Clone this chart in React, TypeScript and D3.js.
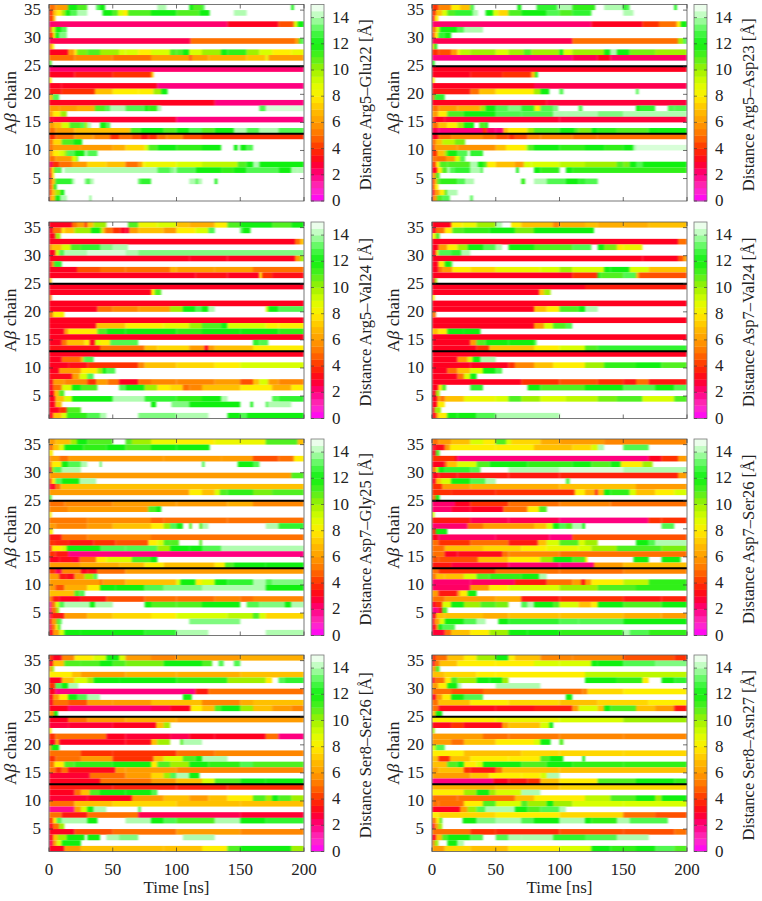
import React from 'react';
import * as d3 from 'd3';

// each row is [end time, distance, end time, distance, ...], chain 35 first, chain 1 last
const arg5Glu22: number[][] = [
  [5,5,15,6,22,12,30,11,37,15,40,13,44,12,85,15,92,14,110,15,113,12,120,11,122,13,190,15,192,12,200,15],
  [3,4,6,7,10,8,13,10,17,12,22,13,30,14,42,15,50,12,54,11,58,9,62,8,80,11,100,12,118,11,126,12,145,15,155,14,200,15],
  [3,4,5,7,200,15],
  [140,2.2,180,3,192,4.5,195,9,200,12],
  [2,4,5,9,10,12,14,13,200,15],
  [3,4,5,8,8,12,14,13.5,200,15],
  [111,2.5,193,5,196,6,198,11,200,13],
  [2,5,4,8,200,15],
  [15,3,20,6,22,8,30,10.5,40,11,55,10,60,9,70,9,80,8,95,9,100,11,105,11,110,12,120,9,135,10,140,12,155,11.5,165,10,175,9,190,8,200,8.5],
  [20,5,50,5.5,80,5,110,6,112,4.5,125,6,155,6.5,170,7,172,8.5,200,6],
  [2,11,200,15],
  [200,2.2],
  [20,3,50,3.5,80,4,82,7,200,15],
  [2,8,200,15],
  [10,3,85,3,200,2],
  [10,3.5,36,4,50,7,70,8,82,8,88,10,93,12,200,15],
  [3,7,8,13,200,15],
  [130,3,200,2],
  [8,6,22,6,36,6.5,44,11,48,13,60,14,75,13,78,12,85,11.5,88,14,165,15,170,13,200,14.5],
  [3,6,9,8,14,10,200,15],
  [3,3,100,2.8,200,2],
  [4,6,10,7,16,9,25,11,28,13,30,10,33,14,40,15,45,12,48,13,200,15],
  [5,5,20,6,40,7,64,7,72,11,90,12,100,11,110,12,120,13,130,11,145,12,155,14,165,13,180,14,200,13],
  [5,4,20,5,35,6,48,5.5,55,4,65,5,72,4.5,78,3.5,85,4,92,5,105,5.5,120,4.5,200,4],
  [3,5,10,7.5,19,11,26,12,200,15],
  [3,5,25,6,50,6,60,6.5,75,7.5,78,9,85,11,100,12,120,11.5,135,12,145,15,148,12,150,15,155,12,160,13,200,15],
  [3,6,8,8,12,9,14,10,20,13,28,12,30,14,38,13,200,15],
  [5,5,18,6,22,9,23,13,200,15],
  [3,2.5,8,4,18,5,30,6,45,7.5,60,7,70,5,73,6,75,8,100,8.5,120,9,148,9.5,155,11,160,12,165,14,200,12],
  [2,4,4,8,6,11,10,13,12,15,85,14,95,13,98,13.5,100,14,115,13,120,12,135,12,145,11.5,155,12,160,13,180,13,190,12,195,14,200,14],
  [2,3,4,8,200,15],
  [2,4,5,7,18,12.5,20,14,28,15,30,13.5,32,12.5,35,14,70,15,72,13,80,12.5,110,15,115,14,117,13,120,14,130,15,132,12,200,15],
  [2,4,4,7,6,12,200,15],
  [2,4,5,7,9,10,12,12,200,15],
  [1,3,5,7,9,12,14,14,32,15,33,13,200,15],
];

const arg5Asp23: number[][] = [
  [5,4,15,5.5,22,8,30,7,33,13,67,15,70,12,82,15,98,12.5,110,14,128,11.5,135,15,150,14,152,12,155,13,190,15,192,12,195,15,200,15],
  [3,4,8,7,12,9,18,11,32,12.5,36,14,42,15,48,12,52,9,60,7.5,70,11,90,12,100,13,110,11,125,12.5,150,15,158,14,200,15],
  [2,3,5,8,200,15],
  [125,2.2,165,3,178,4,192,5,195,8,200,12],
  [3,5,6,9,20,12,25,13,40,14,200,15],
  [2,4,5,8,10,12.5,15,12,200,15],
  [110,2.5,193,5,197,10,200,13],
  [2,7,4,12,200,15],
  [5,4,15,4.5,20,6,22,8,30,9.5,50,10,60,9,72,10,78,11,100,10,103,12,110,9,135,10,140,12,145,14,155,12,175,10.5,200,10],
  [110,2,130,2.5,140,3,200,2.3],
  [2,12,200,15],
  [200,3],
  [30,3,55,3.5,78,4,81,7,83,12,200,15],
  [2,8,200,15],
  [80,3,200,2.5],
  [30,3.5,37,5,50,7,80,8,85,10,92,12,100,15,103,13,160,15,162,13,200,15],
  [2,5,10,12.5,200,15],
  [90,3,200,2.7],
  [5,5,20,6,38,6.5,42,10,50,12,60,13,70,13.5,80,12.5,82,9,85,8,95,13,99,13.5,115,15,118,13,160,15,163,12,175,12.5,185,15,190,13,200,13],
  [5,6,12,8,25,11,50,12,70,13,95,13,105,14,130,14,150,13.5,200,14],
  [2,4,10,3,100,2.8,200,2.7],
  [5,5,12,7,20,8,25,10,33,12,37,15,42,11,44,12,200,15],
  [5,2.5,40,2,43,4,50,2.2,56,2,60,7,75,8,80,10,100,11,112,12,115,11,125,10.5,130,12,145,11.5,170,11,178,12,200,12],
  [5,3,15,5,40,5.5,50,5,60,4.5,65,4,75,4.5,85,5.5,110,5.5,130,5,200,5],
  [3,5,8,7,18,9.5,26,10.5,200,15],
  [2,4,20,6,50,5.8,58,7,73,8,75,9,80,11,100,12,120,11.5,135,12,150,11.5,158,12,160,14,200,14.5],
  [4,4,10,7,12,10,20,12,28,13,30,15,32,12,40,12.5,200,15],
  [3,5,11,5,18,6,22,9,26,13,200,15],
  [3,4,6,8,12,11,30,11,36,14,40,12,43,11,50,8,65,7,72,6,78,9,100,9,120,9.5,145,10,150,11,155,10.5,160,12,165,13,200,12],
  [4,3,8,8,12,11,14,14,18,13,30,12.5,38,14,40,13,66,15,68,12,80,15,85,12,100,11.5,105,15,110,12,200,11.5],
  [3,6,6,11,200,15],
  [2,4,4,7,6,11,20,11.5,26,13,33,14,70,15,73,11.5,80,15,90,14,105,13,115,12,120,12.5,130,13,200,15],
  [2,4,5,8,200,15],
  [2,3,6,6,10,8,12,11,20,14,200,15],
  [1,3,4,6,8,11,14,13,30,15,32,13,200,15],
];

const arg5Val24: number[][] = [
  [18,3,22,5,28,6,30,4,35,7,45,10,52,15,62,15,70,11,85,8.5,100,9,110,7,120,6.5,130,6.5,140,8,150,11,175,12,190,11,200,12],
  [3,3,10,5,12,8,20,7,33,10,40,12,42,10,44,7,50,5,56,4,60,3,63,2.8,70,6,90,7,100,6,115,8,125,9,130,13,150,15,152,13,158,12,200,15],
  [5,3,9,10,200,15],
  [193,3,197,5,200,7],
  [2,5,10,7,17,9,25,11,40,12.5,50,13.5,62,14,200,15],
  [5,3,8,9,12,13,30,14,60,14.5,70,14,200,13.5],
  [110,3,140,3,193,3,197,6,200,10],
  [2,3,4,6,10,12.5,200,15],
  [22,3,40,4.5,60,5,95,5,100,6.5,130,6,160,6,200,5],
  [115,3,140,3.3,165,3,167,8,175,4,200,3.3],
  [2,7,200,15],
  [200,3],
  [80,3,83,8,88,11,200,15],
  [2,5,200,15],
  [200,3],
  [38,3,50,5,70,5.5,95,6,105,10,115,12,120,13,125,12,130,14,170,15,172,9,180,12,200,13],
  [3,5,12,8,200,15],
  [200,3],
  [37,3,60,7,90,8,110,8.5,120,10,135,11,140,12,170,9,180,8,200,8],
  [12,3,15,6,38,8,45,11,60,12,100,12,120,11.5,150,12,180,12,200,11.5],
  [200,3],
  [10,3,14,5,28,7,32,8,36,3,40,9,48,8,70,13,85,15,160,15,165,12.5,172,13,200,15],
  [40,3.3,75,5,85,7,110,7.5,122,6,125,3,130,6,160,7,200,8],
  [200,3],
  [10,3,25,5,27,7,28,11,35,13,200,15],
  [15,3,30,3.3,70,4,75,5.5,100,7,130,7.5,150,8,200,9],
  [8,3,25,6,38,8,42,10,45,12,52,13,200,15],
  [18,3.2,24,6,30,9,35,13,200,15],
  [3,3,12,6,30,5.5,37,4,46,6,55,5,70,3,80,5,100,5.5,130,5.5,150,6,160,4.5,165,7,172,9,180,6,200,5.5],
  [3,3,10,5,18,9,25,12,38,11,42,15,55,15,60,13,75,12,85,10,95,8,105,7.5,110,5,120,5.5,150,7,175,8,190,6.5,200,8],
  [4,3,8,7,12,11,200,15],
  [5,3,12,7,18,9,50,12,75,14,100,12.5,120,11.5,135,12,140,14,160,15,175,15,180,13,200,12.5],
  [5,3,10,7,80,15,84,12,96,15,110,13.5,120,12,150,12,158,15,160,12,170,15,172,13,190,14,200,15],
  [8,3,14,4,25,11,200,15],
  [3,3,10,7,14,9,30,11.5,40,13,45,14,70,15,100,13.5,125,14,140,15,150,12,155,13,200,12],
];

const asp7Val24: number[][] = [
  [15,3,24,8,35,8.5,50,10,55,14,62,15,70,8,95,7,100,5.5,120,6.5,130,7,150,6.5,170,6.5,200,7],
  [3,3,10,5,16,8,25,11,45,11.5,65,12,80,10.5,120,12,127,12,200,15],
  [3,8,6,11,200,15],
  [193,3,200,5],
  [5,3,12,6,20,8,28,10,40,12,50,13,55,14,60,15,80,12,110,11,125,13,130,15,135,12,145,10.5,150,8,165,8.5,166,15,200,15],
  [3,3,5,8,15,13,23,12.5,30,14,200,15],
  [165,3,193,3,197,4.5,200,6],
  [5,3,10,8,15,12,16,13,200,15],
  [5,3,8,5,16,6,30,8,50,7.5,85,8.5,100,9,110,10,135,9,140,12,155,12,170,9,200,7],
  [110,3,130,4,132,12,150,11,160,13,162,7,200,4.5],
  [2,3,4,10,200,15],
  [120,3,200,3.6],
  [84,3,88,7,93,10,200,15],
  [2,8,200,15],
  [200,3],
  [80,3,90,7,100,8,115,11,120,12,130,14,200,15],
  [3,5,200,15],
  [200,3],
  [80,3,88,6,95,9,105,11,110,13,130,15,200,15],
  [5,7,12,8,25,12,38,12,200,15],
  [200,3],
  [30,3,35,6,42,11,60,12,80,12,82,13,85,15,200,15],
  [35,3,45,4,80,7,100,8,120,9,130,11,200,12.5],
  [200,3],
  [20,3,28,6,32,9,38,12,50,14,200,15],
  [30,3,60,3,65,4,80,5.5,95,7,120,8,135,10,160,11.5,180,12,200,11],
  [12,3,20,5,30,7,40,9,50,12,55,13,200,15],
  [20,3,25,5,30,9,35,12,200,15],
  [70,3,100,4,130,4.5,150,4,160,3.5,170,5,200,3.5],
  [5,3,8,8,11,11,30,15,40,12.5,75,15,85,12,120,11,150,12,175,13,190,12,200,13],
  [3,3,6,10,200,15],
  [4,3,7,6,10,5,25,7,50,8.5,60,9,70,11,85,10,105,9,130,9.5,145,10.5,165,11,190,9,200,11],
  [4,3,10,8,200,15],
  [2,3,7,10,200,15],
  [3,3,5,6,12,8,20,12,35,12,50,13,100,14,130,15,200,15],
];

const asp7Gly25: number[][] = [
  [5,6,17,7,22,10,30,12,50,11,52,15,60,15,65,11,80,10,100,8.5,130,8,170,8.5,195,11,200,7],
  [3,5,8,7,12,9,27,12,45,11.5,60,12,80,11,100,12,126,12,200,15],
  [3,8,200,15],
  [1,5,8,6,15,5,90,6,135,6,160,6,180,4.5,192,5,200,8],
  [2,5,10,8,15,12,25,13,30,14,40,15,41,12,120,15,122,13,148,15,160,12,165,13,200,15],
  [2,3,4,10,10,13,25,14,200,15],
  [190,6,200,11],
  [2,4,5,8,10,13,24,12,37,14,200,15],
  [2,2.8,5,3,9,5,200,7],
  [110,6,120,8,130,7,134,9,140,11,160,11.5,175,10.5,200,11],
  [2,11,200,15],
  [12,5,50,5.5,100,6,140,6,160,6.5,200,5.5],
  [15,5.5,78,6,84,11,88,12,200,15],
  [2,8,200,15],
  [30,5.2,80,5.6,90,4.8,140,5,200,5],
  [5,6,30,5.5,50,6,80,7,90,8,95,10,100,13,105,12,110,15,112,11,118,15,120,11,125,14,170,15,180,14,200,12.5],
  [3,8,200,15],
  [10,3.5,30,5,80,5.5,120,5,200,5],
  [4,4,15,3.7,35,3.5,52,4,78,4.5,85,8,90,9,95,11,102,11,110,15,118,15,120,11,200,15],
  [2,3,10,8,14,9,40,12,60,13,85,13,95,10,110,12,120,12,135,13,200,14],
  [5,4,15,3.5,200,2],
  [8,3,18,3.2,24,2.8,37,5,45,8,65,9,80,11,85,12,95,15,200,15],
  [25,6,55,6.5,75,7,90,8,130,7,138,8,145,11,170,12,200,12],
  [5,4,10,2.5,25,5.5,30,3,38,3.3,60,5,200,6],
  [8,6,14,3.5,20,3.2,28,6,35,10,38,13,200,15],
  [40,6,42,5,60,6,100,7,103,9,115,12,120,8,130,9,140,12,160,12.5,170,14,175,13,200,13.5],
  [5,6,12,4.5,30,6.5,40,8,52,12,75,12,90,13,120,13.5,170,14,200,12],
  [20,7,24,11,28,13,200,15],
  [3,5,8,3.5,25,3,45,3.5,75,4.5,100,5,130,5,150,5.5,160,5,200,5.5],
  [2,1.8,5,5,8,9,12,13,32,14,36,12,50,14,75,15,80,12,100,11,120,11,150,12,155,15,165,13,185,13.5,190,12,200,14],
  [2,2,6,5,8,10,200,15],
  [2,2.5,12,3.5,30,6,50,7,80,7.5,100,8,140,9,160,9.5,165,11,170,9,200,7.5],
  [2,3,6,6,8,11,10,13,110,15,150,13.5,200,15],
  [2,2.5,5,5,7,8,9,11,200,15],
  [3,3,8,6,12,9,25,12,50,12,75,12,100,12.5,125,14,150,15,170,15,200,14],
];

const asp7Ser26: number[][] = [
  [5,5,15,6,30,7,40,9,50,8,58,11,62,9,85,7.5,100,6.5,135,6,200,5.5],
  [2,3,10,3.2,14,6,50,8,80,8,110,7,125,7.5,130,9,135,14,150,15,170,13,200,15],
  [3,3,6,11,200,15],
  [18,4,20,3,170,2,180,3,193,4,200,6],
  [10,3,12,5,20,7,35,9,45,11,75,12,110,11.5,125,12,140,11,148,12,165,8,173,10,200,15],
  [3,5,5,9,10,12,30,12.5,38,13,60,15,100,14,150,14.5,200,14],
  [5,3,20,3.5,60,3.5,100,3.5,193,3.7,200,6],
  [3,3,7,7,15,9,30,12,42,13,50,14,105,15,108,13,200,15],
  [8,4,30,6,100,6.5,160,7,200,6],
  [15,4,50,3.8,112,4,120,8,128,6.5,130,3.5,135,7,140,12,155,11.5,160,9,175,7,190,8,200,9],
  [3,5,6,12,200,15],
  [18,2.2,30,3,60,4,100,5,140,5.5,200,5],
  [15,2.2,30,2.8,56,3,75,5,84,8,90,11,200,15],
  [2,9,200,15],
  [30,3.5,60,2.5,100,2.5,170,2,180,4,200,4],
  [28,2.2,40,5,80,6,90,7,95,9,100,12,105,13,110,11,118,14,120,12,180,15,190,13,200,15],
  [3,4,12,12,200,15],
  [5,3,50,2.3,80,2.5,92,2.5,110,2,200,4.5],
  [5,5,30,4,60,5,83,3.5,90,7,100,9,115,11,120,9,130,10,135,15,160,15,170,12,175,13,200,14],
  [10,5,40,7,70,7.5,90,8,115,8.5,125,9,145,10,180,11,200,10.5],
  [10,5,20,3,55,3.2,60,5,100,5.5,200,5],
  [5,4.5,36,4.5,60,7,85,8,95,10,110,12,120,11,122,8,130,15,158,15,170,12,180,15,195,12,200,15],
  [15,3.5,60,2.7,100,2.2,127,2,150,6,200,7],
  [5,5,50,4,100,5,150,5,200,5.5],
  [3,5,10,7,25,7,35,9,45,11,70,11.5,84,12,90,14,200,15],
  [30,2.2,65,2.3,90,3.5,110,5,117,6,120,3.5,125,6,150,8,170,9.5,200,11.5],
  [30,2.3,45,6,60,8,100,9,130,10,160,11,200,11.5],
  [5,6,20,3.5,22,6,28,8,35,12,200,15],
  [10,5,50,6,70,6.5,100,3.5,150,4,180,3.5,200,3.7],
  [3,3,8,4,15,9,25,12,38,10,50,11,60,10.5,70,15,75,13,80,14,95,12,100,11,115,9,125,7,130,8,150,12,180,11,200,12],
  [5,2,8,3,12,11,200,15],
  [3,3,10,7,40,7,60,6.5,100,7,150,7,180,6.5,200,6],
  [2,3,6,6,10,9,25,12,35,13,42,14,52,15,60,12,100,12.5,115,13,150,13,200,12],
  [3,3,5,6,8,12,18,13,200,15],
  [10,2.8,15,5,30,7,45,8,60,10,75,12,100,12,150,11.5,155,14,170,13,200,11.5],
];

const ser8Ser26: number[][] = [
  [3,4,10,3,20,5.5,35,8,45,9,55,12,60,9,80,6,100,5.5,150,6,200,6.5],
  [3,3,12,7,25,11,40,11,50,12,60,11,90,10.5,120,12,128,11,133,15,137,13,145,15,150,13,200,15],
  [2,6,4,10,200,15],
  [18,8,25,7,60,6,100,6.5,150,6.5,200,7],
  [10,3,20,7,30,9,35,10,55,12,80,12,100,12,140,11.5,170,10,175,8,180,15,185,13,200,12.5],
  [5,4,10,13,15,12,23,14,200,15],
  [5,3,115,2,125,3.5,200,5],
  [3,3,8,6,15,8,22,12,30,13,40,14,105,15,112,12,200,15],
  [3,3,15,5,30,4.5,50,6,80,6,120,7,150,5.5,160,6.5,200,7],
  [15,3,80,2.2,95,2.5,111,3,120,8,130,7,135,11,150,12,160,10,175,7,190,6,200,5.5],
  [4,6,7,12,200,15],
  [15,3,30,5,60,6,100,6.5,200,6],
  [15,2.7,50,2.8,84,3,90,7,95,10,200,15],
  [2,8,200,15],
  [5,4,45,5,60,3,95,2.8,110,2.5,130,3,170,3,180,5,200,2],
  [5,3,8,6,60,3,80,3.2,85,7,95,10,103,15,105,11,120,14,200,15],
  [2,6,8,12,200,15],
  [25,5,50,4,100,4,130,5,200,5.5],
  [5,4,25,5,50,6,82,4,90,7,105,9,115,11,120,12,140,14,200,15],
  [4,5,12,8,20,11,50,11.5,80,12,85,8,95,11,110,10,125,12,150,11.5,160,13,200,11],
  [5,5,10,4,15,5,52,3.2,60,6,100,6,200,5.5],
  [32,2.8,60,5,80,6,90,7.5,95,10,100,13,110,14,118,12,200,15],
  [40,3,80,5,100,6,120,7,130,9,150,11,170,12,200,12],
  [50,3.5,100,3.7,140,3.7,200,4],
  [20,3,25,5,32,7,40,11,60,12,80,12,85,13,200,15],
  [30,2.8,65,3,90,6,110,7,125,6,140,7,160,8,170,11,175,10,180,12,190,11,200,10],
  [20,5,50,7,100,7.5,150,7,200,7],
  [20,1.8,25,6,30,9,35,12,45,14,70,15,72,13,200,15],
  [10,5,30,3.5,70,5,150,2.5,200,2.8],
  [3,4,6,8,10,13,30,14,38,12,45,15,60,15,80,14,90,12,100,13,130,11,150,14,170,12,200,12.5],
  [3,3,8,5,12,10,200,15],
  [20,3,50,4.5,100,5,150,6,200,5.5],
  [3,3,7,7,14,10,28,12,30,15,40,12,45,15,55,14,70,13.5,105,15,130,14,200,15],
  [3,2.5,6,6,10,9,25,12,200,15],
  [12,3,25,6,50,7,90,7,120,7,140,8,150,11,190,12,200,10],
];

const ser8Asn27: number[][] = [
  [3,4,12,5,25,7,35,8,50,10,60,12,65,8,85,7,110,5.5,150,5.5,190,4.5,200,4],
  [2,3,6,5,20,7,50,8,80,8,100,9,125,9,130,12,150,12,175,13,200,13.5],
  [3,6,6,11,200,15],
  [10,7,35,7.5,50,8,120,8,200,9.5],
  [2,3,10,5,15,8,20,11,35,10,45,12,55,12,60,10,70,15,120,15,145,12,165,11.5,170,8,180,15,190,12,200,12.5],
  [5,6,12,8,20,12,23,14,50,15,85,14,90,15,200,15],
  [15,5,40,4.5,80,5,118,5,122,5.5,150,7.5,200,8],
  [3,3,8,6,15,8,25,12,40,13,50,15,105,15,110,12,200,15],
  [5,5,30,7,60,8,100,7.5,130,7,170,7.5,200,8],
  [5,5,50,3.2,80,3.3,110,3.6,115,6,130,9,135,7,140,12,160,11,175,7,190,6,200,3.5],
  [3,7,8,12,200,15],
  [50,8,100,8.5,150,9,200,10],
  [15,3.2,25,4,55,3.2,60,6,85,7,92,9,95,12,200,15],
  [2,10,200,15],
  [40,6,60,5,100,5.2,150,5.5,200,5.5],
  [15,6,25,5,50,7,80,8,85,9,93,12,100,15,103,11,200,15],
  [3,9,10,13,200,15],
  [25,8,70,7,100,7.5,150,7.5,200,7.5],
  [5,7,14,4,30,7,60,8,85,8,92,11,103,12,110,15,118,15,120,12,200,15],
  [12,7,20,11,25,12,35,8,40,9,70,12,90,11,110,12,150,11.5,200,11.5],
  [5,6,25,7,30,4,50,3.5,55,5,100,7,200,7],
  [30,6,45,7,70,8,85,8,90,9,100,14,200,15],
  [48,2,60,3,75,3.5,85,4,100,7,130,8,160,11,190,12,200,11.5],
  [50,6.5,100,7,200,7.5],
  [25,8,35,10,45,12,50,10,70,9,85,14,200,15],
  [20,5,65,5,80,7,120,8,140,9.5,160,11,175,12,180,10,200,12],
  [5,5,25,5,40,8,50,11,70,9,75,11,90,10,95,12,110,10,150,9,200,9],
  [22,3,28,6,35,10,42,13,65,14,75,12,85,11,100,13,105,14,200,15],
  [5,8,50,7.5,100,8,150,7.5,175,5,200,4.5],
  [3,5,6,8,8,11,24,15,35,12,50,13.5,70,14,80,13,100,12,120,14,125,12,145,11.5,155,14,185,13,200,15],
  [2,3,5,6,8,10,200,15],
  [30,5,50,4,100,3.8,150,4.5,190,4.5,200,5],
  [3,3,8,7,12,11,30,12,40,13,50,15,60,13,70,14,95,14,120,12.5,145,13,170,14,200,15],
  [2,5,5,10,12,15,20,12,25,14,200,15],
  [10,6,30,7.5,60,7,100,8,125,9,140,12,160,11.5,175,12,190,13,200,11],
];

const pairNames = ['Arg5–Glu22', 'Arg5–Asp23', 'Arg5–Val24', 'Asp7–Val24', 'Asp7–Gly25', 'Asp7–Ser26', 'Ser8–Ser26', 'Ser8–Asn27'];
const pairRows = [arg5Glu22, arg5Asp23, arg5Val24, asp7Val24, asp7Gly25, asp7Ser26, ser8Ser26, ser8Asn27];

const chainTicks = [5, 10, 15, 20, 25, 30, 35];
const timeTicks = [0, 50, 100, 150, 200];
const distanceTicks = [0, 2, 4, 6, 8, 10, 12, 14];
const boundaries = [13, 25];
const colorStops = [0, 1, 2, 3, 4, 5, 6, 7, 8, 9, 10, 11, 12, 13, 14, 15];
const colorValues = ['#ff00ff', '#ff30c0', '#ff0080', '#ff0020', '#ff3000', '#ff7000', '#ff9c00', '#ffc000', '#ffee00', '#d8ff00', '#a0f000', '#50f020', '#10f010', '#50f850', '#b0fcb0', '#ffffff'];
const barSteps = d3.range(0, 15, 0.5);

const panelLefts = [49, 432];
const panelTops = [4.5, 222, 439, 655];
const plotW = 255;
const plotH = 196.5;
const barGap = 7;
const barW = 13;
const serif = '"Liberation Serif", serif';

const color = d3.scaleLinear<string>().domain(colorStops).range(colorValues).clamp(true);

function Panel({ id, name, rows, left, top, showTime }: { id: number; name: string; rows: number[][]; left: number; top: number; showTime: boolean }) {
  const x = d3.scaleLinear().domain([0, 200]).range([left, left + plotW]);
  const y = d3.scaleLinear().domain([1, 36]).range([top + plotH, top]);
  const c = d3.scaleLinear().domain([0, 15]).range([top + plotH, top]);
  const barX = left + plotW + barGap;

  return (
    <g fontFamily={serif} fill="#222">
      <clipPath id={`plot${id}`}>
        <rect x={left} y={top} width={plotW} height={plotH} />
      </clipPath>
      <g clipPath={`url(#plot${id})`}>
        <g filter="url(#soften)">
          <rect x={left} y={top} width={plotW} height={plotH} fill="#fff" />
          {rows.map((row, i) => {
            const chain = 35 - i;
            const segs = [];
            let start = 0;
            for (let k = 0; k < row.length; k += 2) {
              if (row[k + 1] < 15) {
                segs.push(<rect key={k} x={x(start)} y={y(chain + 1)} width={x(row[k]) - x(start)} height={y(chain) - y(chain + 1)} fill={color(row[k + 1])} />);
              }
              start = row[k];
            }
            return <g key={chain}>{segs}</g>;
          })}
        </g>
      </g>
      {boundaries.map(b => (
        <line key={b} x1={left} x2={left + plotW} y1={y(b)} y2={y(b)} stroke="#000" strokeWidth={2} />
      ))}
      <rect x={left} y={top} width={plotW} height={plotH} fill="none" stroke="#555" strokeWidth={0.8} />
      {chainTicks.map(t => (
        <g key={t}>
          <line x1={left} x2={left + 4} y1={y(t)} y2={y(t)} stroke="#333" strokeWidth={0.7} />
          <line x1={left + plotW - 4} x2={left + plotW} y1={y(t)} y2={y(t)} stroke="#333" strokeWidth={0.7} />
          <text x={left - 8} y={y(t) + 5} textAnchor="end" fontSize={17}>{t}</text>
        </g>
      ))}
      {timeTicks.map(t => (
        <g key={t}>
          <line x1={x(t)} x2={x(t)} y1={top + plotH} y2={top + plotH - 4} stroke="#333" strokeWidth={0.7} />
          <line x1={x(t)} x2={x(t)} y1={top} y2={top + 4} stroke="#333" strokeWidth={0.7} />
          {showTime && <text x={x(t)} y={top + plotH + 23} textAnchor="middle" fontSize={17}>{t}</text>}
        </g>
      ))}
      {showTime && <text x={left + plotW / 2} y={top + plotH + 41} textAnchor="middle" fontSize={17}>Time [ns]</text>}
      <text transform={`translate(${left - 33},${top + plotH / 2}) rotate(-90)`} textAnchor="middle" fontSize={17.5}>
        A<tspan fontStyle="italic">β</tspan> chain
      </text>

      {barSteps.map(v => (
        <rect key={v} x={barX} y={c(v + 0.5)} width={barW} height={c(v) - c(v + 0.5) + 0.3} fill={color(v + 0.25)} />
      ))}
      <rect x={barX} y={top} width={barW} height={plotH} fill="none" stroke="#777" strokeWidth={0.8} />
      {distanceTicks.map(t => (
        <g key={t}>
          <line x1={barX} x2={barX + 3} y1={c(t)} y2={c(t)} stroke="#333" strokeWidth={0.6} />
          <line x1={barX + barW - 3} x2={barX + barW} y1={c(t)} y2={c(t)} stroke="#333" strokeWidth={0.6} />
          <text x={barX + barW + 8} y={c(t) + 5} fontSize={17}>{t}</text>
        </g>
      ))}
      <text transform={`translate(${barX + barW + 47},${top + plotH / 2 + 2}) rotate(-90)`} textAnchor="middle" fontSize={16.5}>
        {`Distance ${name} [Å]`}
      </text>
    </g>
  );
}

export default function App() {
  return (
    <svg width={762} height={901} style={{ position: 'absolute', left: 0, top: 0, background: '#fff' }}>
      <defs>
        <filter id="soften" x="-2%" y="-2%" width="104%" height="104%" colorInterpolationFilters="sRGB">
          <feGaussianBlur stdDeviation="0.9 0.35" />
        </filter>
      </defs>
      {pairRows.map((rows, i) => (
        <Panel
          key={pairNames[i]}
          id={i}
          name={pairNames[i]}
          rows={rows}
          left={panelLefts[i % 2]}
          top={panelTops[Math.floor(i / 2)]}
          showTime={i >= 6}
        />
      ))}
    </svg>
  );
}
